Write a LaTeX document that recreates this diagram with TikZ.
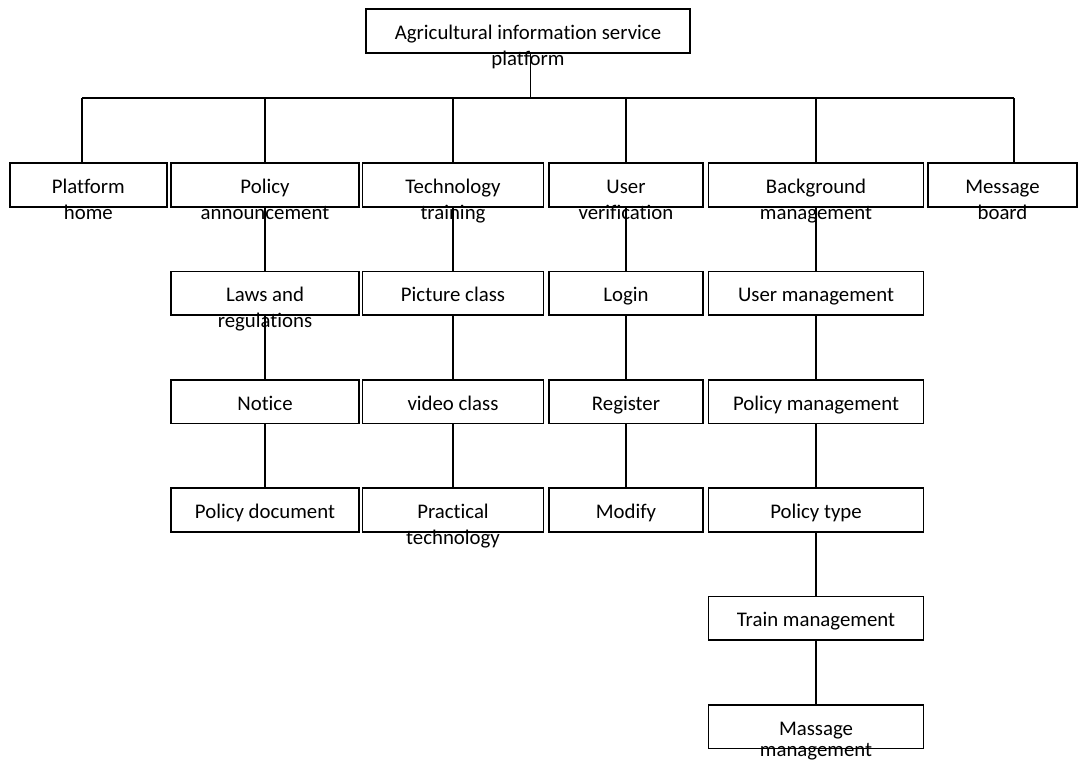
\documentclass[tikz,border=0pt]{standalone}
\usepackage{fontspec}
\setmainfont{Carlito}[Ligatures=NoCommon]

\newcommand{\twolines}[3][0pt]{\begin{tabular}[t]{@{}c@{}}#2\\[#1]#3\end{tabular}}

\begin{document}
\begin{tikzpicture}[x=0.025cm,y=-0.025cm,line width=1.05pt,node distance=2.7075cm,
  box node/.style={draw,rectangle,inner sep=0pt,minimum height=1.09cm,text height=12.5pt,text depth=0.5pt,font=\fontsize{14.8pt}{18.6pt}\selectfont}]
    \useasboundingbox (0,0) rectangle (1078,764);

    \node[box node,minimum width=8.1cm] (top) at (528,31) {\twolines{Agricultural information service}{platform}};

    \node[box node,minimum width=3.925cm] (home) at (88.3,185) {\twolines{Platform}{home}};
    \node[box node,minimum width=4.7cm] (policy) at (265,185) {\twolines{Policy}{announcement}};
    \node[box node,minimum width=4.525cm] (tech) at (453,185) {\twolines{Technology}{training}};
    \node[box node,minimum width=3.85cm] (user) at (626,185) {\twolines{User}{verification}};
    \node[box node,minimum width=5.375cm] (backgr) at (816,185) {\twolines{Background}{management}};
    \node[box node,minimum width=3.725cm] (board) at (1002.5,185) {\twolines{Message}{board}};

    \node[box node,minimum width=4.7cm] (laws) [below of=policy] {\twolines{Laws and}{regulations}};
    \node[box node,minimum width=4.7cm] (notice) [below of=laws] {Notice};
    \node[box node,minimum width=4.7cm] (document) [below of=notice] {Policy document};

    \node[box node,minimum width=4.525cm] (picture) [below of=tech] {Picture class};
    \node[box node,minimum width=4.525cm] (video) [below of=picture] {video class};
    \node[box node,minimum width=4.525cm] (practical) [below of=video] {\twolines{Practical}{technology}};

    \node[box node,minimum width=3.85cm] (login) [below of=user] {Login};
    \node[box node,minimum width=3.85cm] (register) [below of=login] {Register};
    \node[box node,minimum width=3.85cm] (modify) [below of=register] {Modify};

    \node[box node,minimum width=5.375cm] (usermgmt) [below of=backgr] {User management};
    \node[box node,minimum width=5.375cm] (policymgmt) [below of=usermgmt] {Policy management};
    \node[box node,minimum width=5.375cm] (policytype) [below of=policymgmt] {Policy type};
    \node[box node,minimum width=5.375cm] (trainmgmt) [below of=policytype] {Train management};
    \node[box node,minimum width=5.375cm] (massagemgmt) [below of=trainmgmt] {\twolines[-3.5pt]{Massage}{management}};

    \coordinate (bar) at (530.7,98);
    \coordinate (barL) at (82,98);
    \coordinate (barR) at (1014,98);

    \draw (bar |- top.south) -- (bar);
    \draw (barL) -- (barR);
    \draw (barL) -- (barL |- home.north);
    \draw (policy.north |- bar) -- (policy.north);
    \draw (tech.north |- bar) -- (tech.north);
    \draw (user.north |- bar) -- (user.north);
    \draw (backgr.north |- bar) -- (backgr.north);
    \draw (barR) -- (barR |- board.north);

    \path
        (policy) edge (laws)
        (laws) edge (notice)
        (notice) edge (document)

        (tech) edge (picture)
        (picture) edge (video)
        (video) edge (practical)

        (user) edge (login)
        (login) edge (register)
        (register) edge (modify)

        (backgr) edge (usermgmt)
        (usermgmt) edge (policymgmt)
        (policymgmt) edge (policytype)
        (policytype) edge (trainmgmt)
        (trainmgmt) edge (massagemgmt)
    ;

\end{tikzpicture}
\end{document}
